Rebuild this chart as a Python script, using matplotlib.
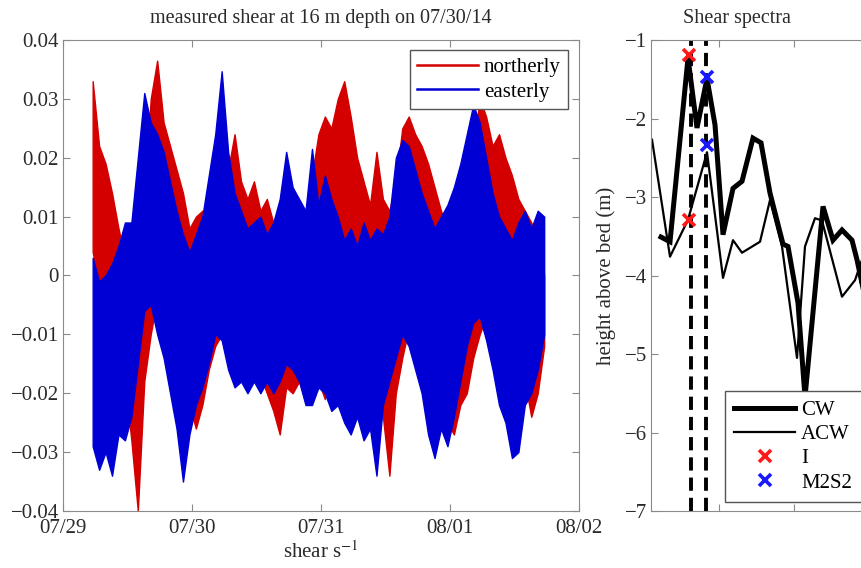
import numpy as np
import matplotlib.pyplot as plt
from matplotlib.lines import Line2D

plt.rcParams['font.family'] = ['Liberation Serif', 'DejaVu Serif']
plt.rcParams['mathtext.fontset'] = 'stix'

# ---- left panel: measured shear (days after 07/29 00:00) ----
t_start = 0.23
t_step = 0.05
north_hi = [0.033, 0.022, 0.019, 0.014, 0.008, 0.003, -0.001, 0.002, 0.012, 0.030,
            0.0365, 0.026, 0.022, 0.018, 0.014, 0.008, 0.010, 0.011, 0.006, 0.004,
            0.012, 0.018, 0.024, 0.016, 0.013, 0.016, 0.011, 0.013, 0.009, 0.007,
            0.010, 0.008, 0.011, 0.009, 0.017, 0.024, 0.027, 0.025, 0.030, 0.033,
            0.027, 0.020, 0.016, 0.012, 0.021, 0.013, 0.011, 0.016, 0.025, 0.027,
            0.024, 0.022, 0.019, 0.015, 0.011, 0.008, 0.006, 0.005, 0.011, 0.021,
            0.030, 0.027, 0.022, 0.024, 0.020, 0.017, 0.013, 0.011, 0.009, 0.006,
            0.000]
north_lo = [0.004, -0.002, -0.006, -0.004, -0.010, -0.018, -0.028, -0.040, -0.018, -0.010,
            -0.004, -0.004, -0.007, -0.010, -0.015, -0.022, -0.026, -0.022, -0.016, -0.012,
            -0.010, -0.007, -0.005, -0.008, -0.011, -0.013, -0.017, -0.020, -0.023, -0.027,
            -0.019, -0.020, -0.018, -0.021, -0.016, -0.018, -0.021, -0.012, -0.008, -0.008,
            -0.010, -0.013, -0.016, -0.020, -0.022, -0.024, -0.034, -0.020, -0.014, -0.009,
            -0.008, -0.010, -0.012, -0.014, -0.020, -0.025, -0.027, -0.022, -0.020, -0.014,
            -0.010, -0.007, -0.006, -0.008, -0.010, -0.012, -0.016, -0.018, -0.024, -0.020,
            -0.012]
east_hi = [0.003, -0.001, 0.000, 0.002, 0.005, 0.009, 0.009, 0.020, 0.031, 0.026,
           0.024, 0.021, 0.016, 0.011, 0.007, 0.004, 0.007, 0.010, 0.017, 0.024,
           0.0347, 0.021, 0.014, 0.011, 0.008, 0.009, 0.010, 0.007, 0.009, 0.013,
           0.021, 0.015, 0.013, 0.011, 0.0215, 0.012, 0.017, 0.013, 0.010, 0.006,
           0.008, 0.005, 0.009, 0.006, 0.008, 0.007, 0.010, 0.020, 0.023, 0.022,
           0.018, 0.014, 0.011, 0.008, 0.010, 0.012, 0.015, 0.019, 0.024, 0.029,
           0.026, 0.020, 0.014, 0.010, 0.008, 0.006, 0.009, 0.011, 0.008, 0.011,
           0.010]
east_lo = [-0.029, -0.033, -0.030, -0.034, -0.027, -0.028, -0.024, -0.015, -0.006, -0.005,
           -0.010, -0.014, -0.020, -0.026, -0.035, -0.027, -0.022, -0.019, -0.015, -0.010,
           -0.011, -0.016, -0.019, -0.018, -0.020, -0.018, -0.020, -0.018, -0.020, -0.018,
           -0.015, -0.016, -0.018, -0.022, -0.022, -0.019, -0.020, -0.023, -0.022, -0.025,
           -0.027, -0.024, -0.028, -0.026, -0.034, -0.022, -0.018, -0.014, -0.010, -0.012,
           -0.016, -0.020, -0.027, -0.031, -0.026, -0.029, -0.024, -0.018, -0.012, -0.008,
           -0.007, -0.011, -0.016, -0.022, -0.025, -0.031, -0.030, -0.022, -0.020, -0.016,
           -0.010]
day_ticks = [0, 1, 2, 3, 4]
day_labels = ['07/29', '07/30', '07/31', '08/01', '08/02']

# ---- right panel: shear spectra ----
cw_x = [10, 19, 37, 46, 56, 64, 72, 82, 91, 102, 110, 119, 127, 132, 137, 147, 154,
        172, 182, 191, 201, 206, 211, 216, 226]
cw_y = [-3.51, -3.57, -1.23, -2.12, -1.49, -2.08, -3.48, -2.89, -2.80, -2.25, -2.31,
        -2.95, -3.35, -3.60, -3.63, -4.35, -5.55, -3.12, -3.55, -3.42, -3.55, -3.80,
        -4.10, -3.78, -3.90]
acw_x = [1, 19, 37, 56, 72, 82, 91, 109, 119, 131, 146, 154, 164, 171, 191, 204, 211, 226]
acw_y = [-2.27, -3.76, -3.29, -2.43, -4.03, -3.55, -3.71, -3.57, -3.04, -3.63, -5.05,
         -3.63, -3.27, -3.30, -4.27, -4.06, -3.80, -3.60]
inertial_x = 38
inertial_y = [-1.19, -3.29]
m2s2_x = 56
m2s2_y = [-1.47, -2.34]
dash_x = [40, 55]

W, H = 862, 568
def box(x0, y0, x1, y1):
    return [x0 / W, 1 - y1 / H, (x1 - x0) / W, (y1 - y0) / H]

fig = plt.figure(figsize=(W / 100, H / 100), dpi=100)
ax1 = fig.add_axes(box(63, 40, 579, 511))
ax2 = fig.add_axes(box(651, 40, 901, 511))

spine_col = '#8a8a8a'
txt_col = '#2a2a2a'
fs = 15
red = '#d40000'
blue = '#0000d4'

def draw_shear(ax, hi, lo, col):
    t0 = t_start + t_step * np.arange(len(hi))
    # band between the read high and low envelopes
    ax.fill_between(t0, lo, hi, color=col, lw=1.0, edgecolor=col)

draw_shear(ax1, north_hi, north_lo, red)
draw_shear(ax1, east_hi, east_lo, blue)
ax1.set_xlim(0, 4)
ax1.set_ylim(-0.04, 0.04)
ax1.set_xticks(day_ticks)
ax1.set_xticklabels(day_labels)
yt = np.arange(-0.04, 0.041, 0.01)
ax1.set_yticks(yt)
ax1.set_yticklabels(['0' if abs(v) < 1e-9 else ('%.2f' % v).replace('-', '\u2212') for v in yt])
ax1.set_title('measured shear at 16 m depth on 07/30/14', fontsize=14.5, color=txt_col, pad=12)
ax1.set_xlabel('shear s$^{-1}$', fontsize=fs, color=txt_col, labelpad=2)
shear_handles = [Line2D([], [], color=red, lw=1.8), Line2D([], [], color=blue, lw=1.8)]
ax1.legend(shear_handles, ['northerly', 'easterly'], loc='upper right',
           bbox_to_anchor=(568 / W, 1 - 50 / H), bbox_transform=fig.transFigure,
           borderaxespad=0, fontsize=fs, handlelength=2.9, handletextpad=0.3,
           fancybox=False, framealpha=1, edgecolor='#555555', borderpad=0.35, labelspacing=0.25)

# right panel
for xd in dash_x:
    ax2.axvline(xd, color='k', lw=2.8, ls=(0, (3.4, 1.8)))
ax2.plot(cw_x, cw_y, color='k', lw=3.6, solid_joinstyle='miter')
ax2.plot(acw_x, acw_y, color='k', lw=1.6)
ax2.plot([inertial_x] * 2, inertial_y, 'x', color='#ff1a1a', ms=8, mew=2.6)
ax2.plot([m2s2_x] * 2, m2s2_y, 'x', color='#1a1aff', ms=8, mew=2.6)
ax2.set_xlim(0, 250)
ax2.set_ylim(-7, -1)
ax2.set_xticks([68, 143, 218])
ax2.set_xticklabels([])
ax2.set_yticks([-1, -2, -3, -4, -5, -6, -7])
ax2.set_yticklabels(['\u22121', '\u22122', '\u22123', '\u22124', '\u22125', '\u22126', '\u22127'])
ax2.set_ylabel('height above bed (m)', fontsize=fs, color=txt_col, labelpad=6)
ax2.set_title('Shear spectra', fontsize=14.5, color=txt_col, pad=12, x=(737 - 651) / 250)
handles = [Line2D([], [], color='k', lw=3.6),
           Line2D([], [], color='k', lw=1.6),
           Line2D([], [], ls='none', marker='x', color='#ff1a1a', ms=8, mew=2.6),
           Line2D([], [], ls='none', marker='x', color='#1a1aff', ms=8, mew=2.6)]
# the legend box runs past the right edge of the figure, as in the source
ax2.legend(handles, ['CW', 'ACW', 'I', 'M2S2'], loc='lower left', mode='expand',
           bbox_to_anchor=(725 / W, (H - 502) / H, 160 / W, 0.1), bbox_transform=fig.transFigure,
           borderaxespad=0, fontsize=fs, handlelength=2.9, handletextpad=0.3,
           fancybox=False, framealpha=1, edgecolor='#555555', borderpad=0.45, labelspacing=0.22)

for ax in (ax1, ax2):
    for s in ax.spines.values():
        s.set_color(spine_col)
    ax.tick_params(direction='in', length=5, top=True, right=True, colors=spine_col,
                   labelcolor=txt_col, labelsize=fs, pad=3)
ax1.tick_params(axis='x', pad=6)

fig.savefig('out.png', dpi=100)
